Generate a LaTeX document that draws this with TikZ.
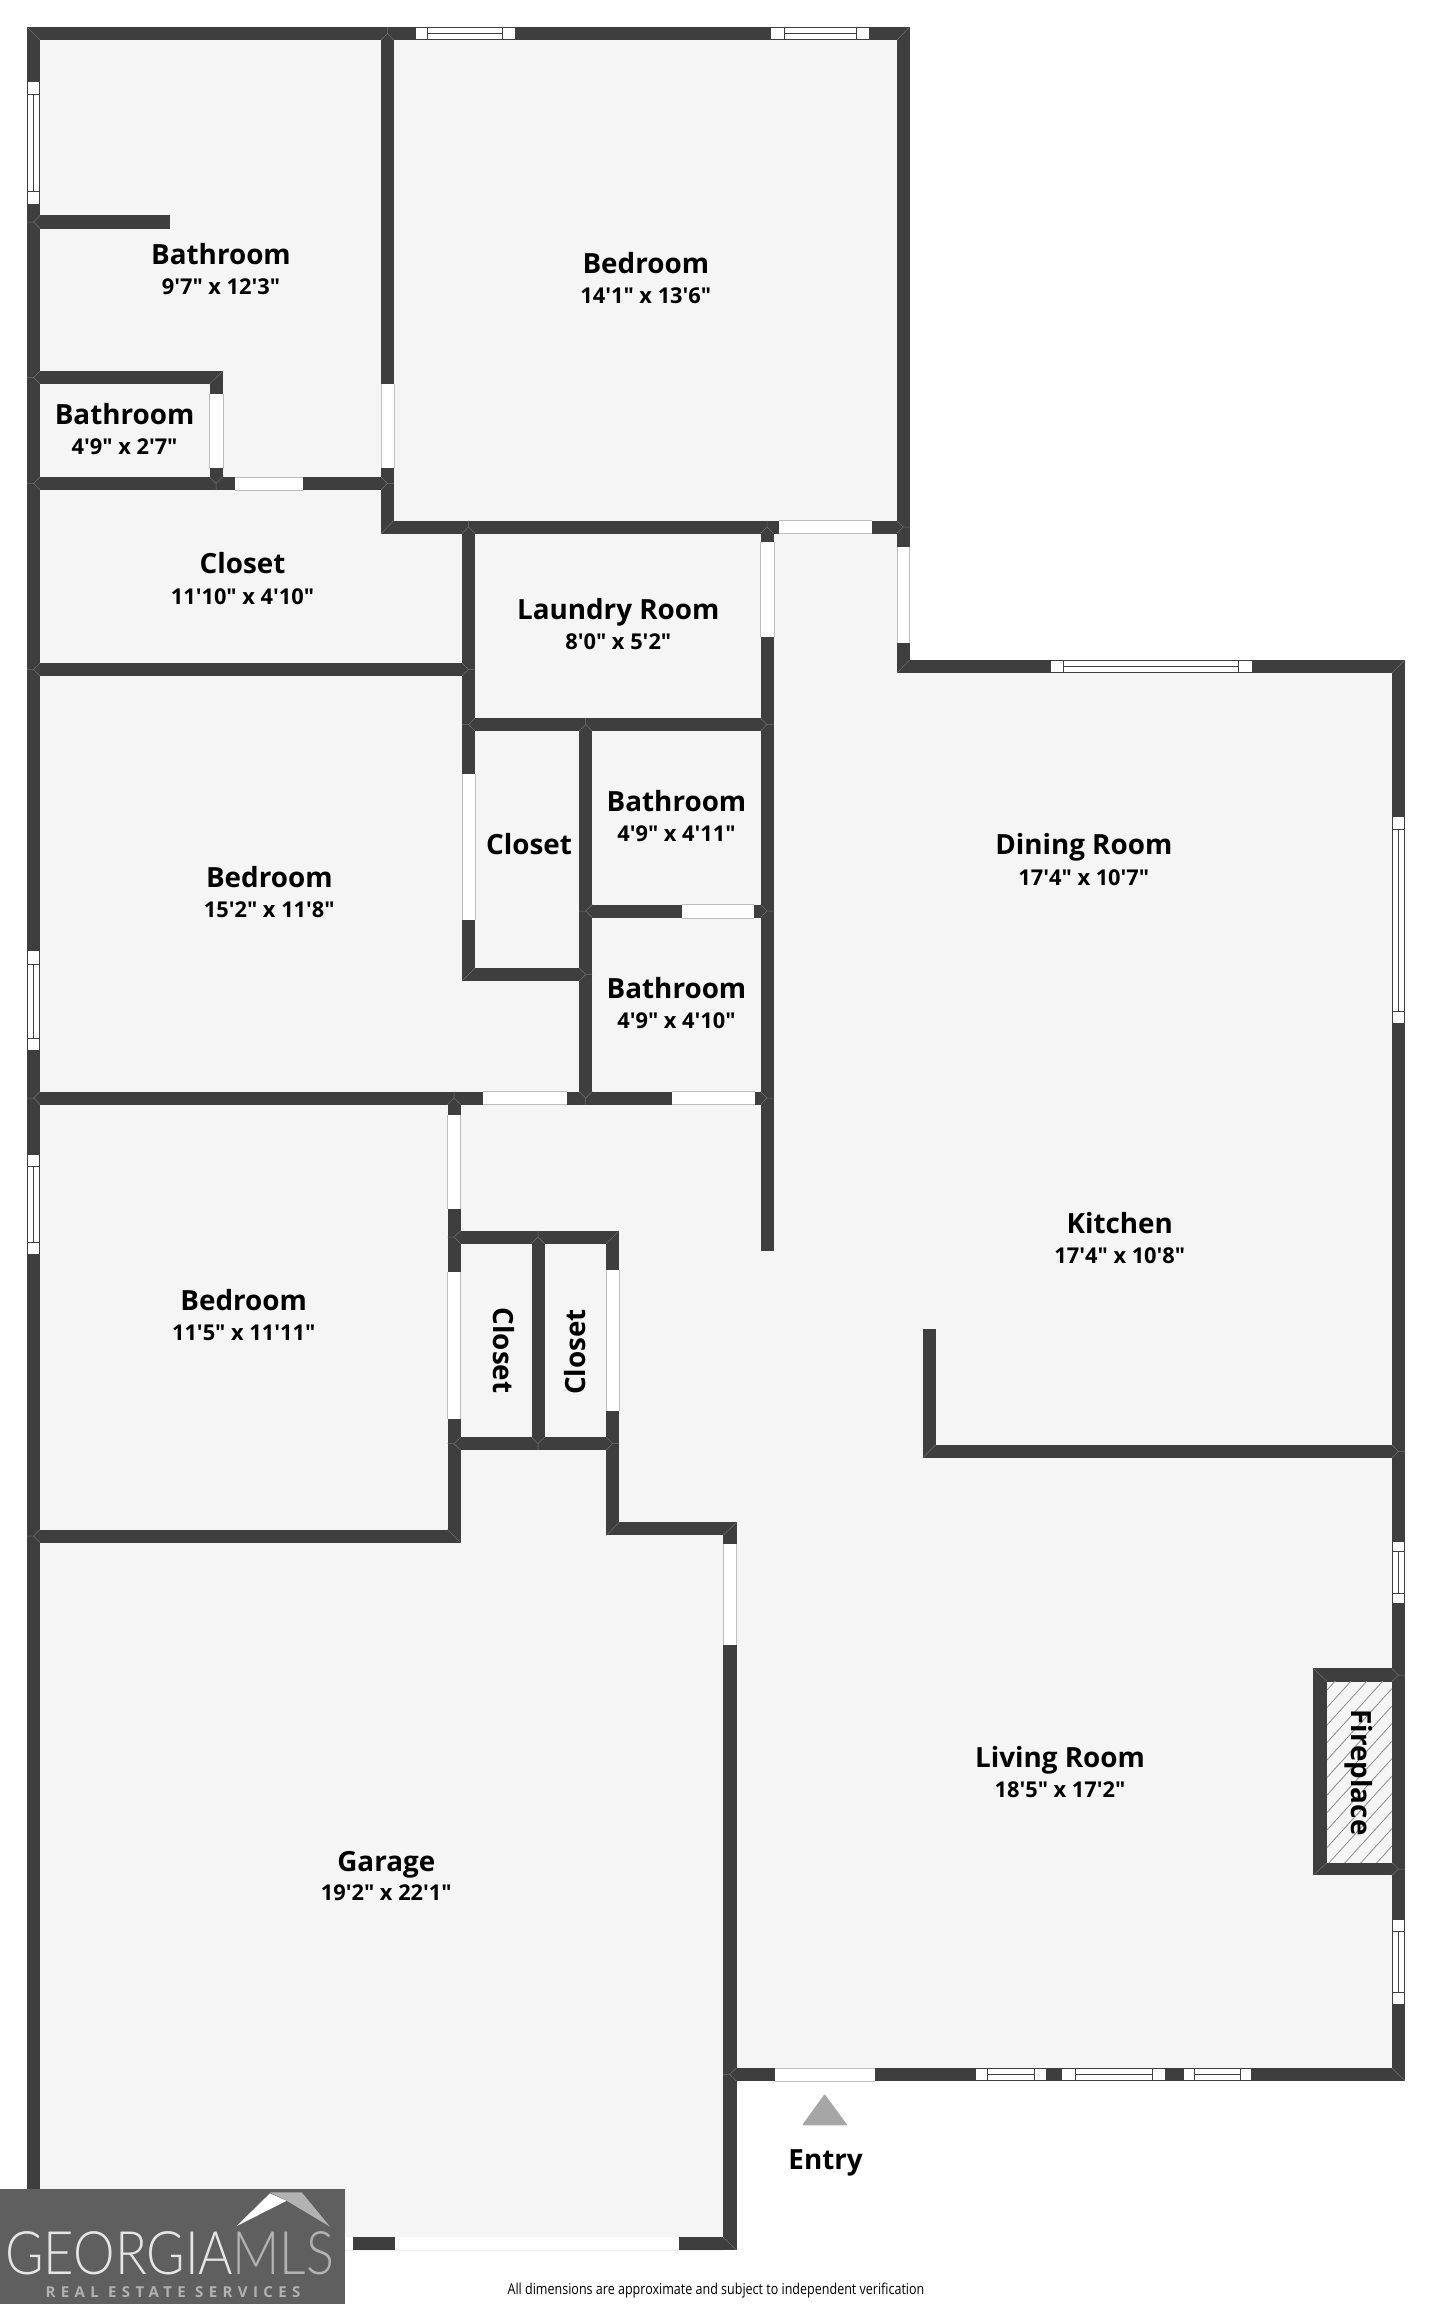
\documentclass[tikz,border=0pt]{standalone}
\usepackage{fontspec}
\newfontfamily\labelfont{Open Sans}
\newfontfamily\logofont{Lato Light}
\newfontfamily\logosub{Open Sans}[LetterSpace=36]
\definecolor{wallc}{HTML}{3E3E3E}
\definecolor{floorc}{HTML}{F5F5F5}
\definecolor{doorl}{HTML}{BDBDBD}
\definecolor{hatchc}{HTML}{8C8C8C}
\definecolor{logoc}{HTML}{5F5F5F}
\definecolor{mitrec}{HTML}{6E6E6E}
\tikzset{
  wall/.style={fill=wallc},
  winframe/.style={fill=white,draw=wallc,line width=.8pt},
  winline/.style={draw=wallc,line width=.8pt},
  mitreline/.style={draw=mitrec,line width=.5pt},
  roomname/.style={font=\labelfont\bfseries\fontsize{27.8}{30}\selectfont,inner sep=0pt,text=black,text height=20pt,text depth=0pt},
  roomdim/.style={font=\labelfont\bfseries\fontsize{21.8}{24}\selectfont,inner sep=0pt,text=black,text height=16pt,text depth=0pt},
}
\newcommand{\wl}[4]{\fill[wall] (#1,#2) rectangle (#3,#4);}
\newcommand{\doorH}[4]{\path[fill=white] (#1,#3) rectangle (#2,#4);\draw[draw=doorl,line width=.8pt] (#1,#3)--(#2,#3) (#1,#4)--(#2,#4);}
\newcommand{\doorV}[4]{\path[fill=white] (#3,#1) rectangle (#4,#2);\draw[draw=doorl,line width=.8pt] (#3,#1)--(#3,#2) (#4,#1)--(#4,#2);}
\newcommand{\winH}[6]{\path[winframe] (#1,#5) rectangle (#2,#6);\draw[winline] (#3,#5)--(#3,#6) (#4,#5)--(#4,#6) (#3,{(#5+#6)/2})--(#4,{(#5+#6)/2});}
\newcommand{\winV}[6]{\path[winframe] (#5,#1) rectangle (#6,#2);\draw[winline] (#5,#3)--(#6,#3) (#5,#4)--(#6,#4) ({(#5+#6)/2},#3)--({(#5+#6)/2},#4);}
% T-joint mitre at (x,y), branch direction given by an angle
\newcommand{\tee}[3]{\draw[mitreline,shift={(#1,#2)},rotate=#3] (6.5,-6.5)--(0,0)--(6.5,6.5) (-6.5,0)--(0,0);}
\newcommand{\crn}[4]{\draw[mitreline] (#1,#2)--(#3,#4);}
\begin{document}
\begin{tikzpicture}[x=1pt,y=-1pt]
\useasboundingbox (0,0) rectangle (1432,2304);
\fill[white] (0,0) rectangle (1432,2304);
% floor
\fill[floorc] (27,27)--(909.6,27)--(909.6,660)--(1405,660)--(1405,2081)--(736.5,2081)--(736.5,2237.3)--(27,2237.3)--cycle;
% outer walls
\wl{27}{27}{909.6}{40}
\wl{27}{27}{40}{2250}
\wl{897}{27}{909.6}{673}
\wl{897}{660}{1405}{673}
\wl{1392}{660}{1405}{2081}
\wl{723}{2068}{1405}{2081}
\wl{723}{1522.4}{736.5}{2250}
% bottom of garage
\draw[draw=black!6,line width=.8pt] (40,2250)--(723,2250);
\wl{352.7}{2237.3}{394.8}{2250}
\wl{679}{2237.3}{736.5}{2250}
% upper left
\wl{381}{27}{394}{534}
\wl{381}{520.5}{909.6}{533.7}
\wl{27}{215}{170}{229}
\wl{27}{371}{223}{384}
\wl{209.5}{371}{223}{490}
\wl{27}{477}{394}{490}
\wl{27}{663}{475}{676}
\wl{462}{520.5}{475}{981}
\wl{462}{718}{774}{731}
\wl{462}{968}{592}{981}
\wl{579}{718}{592.4}{1104.5}
\wl{579}{904.5}{774}{918}
\wl{27}{1091.7}{774}{1104.5}
\wl{760.6}{520.5}{774}{1250.7}
% bedroom / closets
\wl{447.5}{1091.7}{460.7}{1542.7}
\wl{27}{1529.6}{460.7}{1542.7}
\wl{447.5}{1230.8}{619}{1243.8}
\wl{447.5}{1437.4}{619}{1450}
\wl{531.7}{1230.8}{544.6}{1450}
\wl{606.3}{1230.8}{619}{1535.4}
\wl{606.3}{1522.4}{736.5}{1535.4}
% kitchen
\wl{922.6}{1328.8}{935.6}{1458}
\wl{922.6}{1444.8}{1405}{1458}
% fireplace
\wl{1313.4}{1668.4}{1405}{1681.5}
\wl{1313.4}{1862.6}{1405}{1875}
\wl{1313.4}{1668.4}{1327}{1875}
\begin{scope}
\clip (1327,1681.5) rectangle (1392,1862.6);
\foreach \k in {0,...,16}{\draw[hatchc,line width=.8pt] (1327,{1690+\k*17.5}) -- (1392,{1618.5+\k*17.5});}
\end{scope}
% mitres
\tee{33.5}{222}{0}\tee{33.5}{377.5}{0}\tee{33.5}{483.5}{0}\tee{33.5}{669.5}{0}\tee{33.5}{1098}{0}\tee{33.5}{1536}{0}
\tee{387.5}{33.5}{-90}\tee{387.5}{483.5}{180}\tee{216}{483.5}{90}
\tee{468.5}{527}{-90}\tee{903.3}{527}{180}\tee{767}{527}{-90}
\tee{468.5}{669.5}{180}\tee{468.5}{724.5}{0}
\tee{585.7}{724.5}{-90}\tee{767}{724.5}{180}\tee{767}{911}{180}\tee{767}{1098}{180}
\tee{585.7}{911}{0}\tee{585.7}{974.5}{180}\tee{585.7}{1098}{90}\tee{454}{1098}{-90}
\tee{454}{1237}{0}\tee{454}{1443.7}{0}\tee{538}{1237}{-90}\tee{538}{1443.7}{90}\tee{612.6}{1443.7}{180}
\tee{729.8}{2074.5}{0}\tee{1398.5}{1451.4}{180}\tee{1398.5}{1675}{180}\tee{1398.5}{1869}{180}
\crn{27}{27}{40}{40}\crn{909.6}{27}{897}{40}\crn{897}{673}{909.6}{660}\crn{1405}{660}{1392}{673}
\crn{1405}{2081}{1392}{2068}\crn{736.5}{2250}{723}{2237.3}\crn{223}{371}{209.5}{384}\crn{381}{533.7}{394}{520.5}
\crn{462}{981}{475}{968}\crn{460.7}{1542.7}{447.5}{1529.6}\crn{619}{1230.8}{606.3}{1243.8}\crn{606.3}{1535.4}{619}{1522.4}
\crn{736.5}{1522.4}{723}{1535.4}\crn{922.6}{1458}{935.6}{1444.8}\crn{1313.4}{1668.4}{1327}{1681.5}\crn{1313.4}{1875}{1327}{1862.6}
% doors
\doorV{384}{468}{381}{394}
\doorV{394}{468}{209.5}{223}
\doorH{235}{303}{477}{490}
\doorH{779}{872}{520.5}{533.7}
\doorV{541.6}{636.7}{760.6}{774}
\doorV{547}{643.4}{897}{909.6}
\doorV{774}{920}{462}{475}
\doorH{682}{754}{904.5}{918}
\doorH{482.5}{567}{1091.7}{1104.5}
\doorH{672}{755}{1091.7}{1104.5}
\doorV{1115}{1208.7}{447.5}{460.7}
\doorV{1272.4}{1419}{447.5}{460.7}
\doorV{1270}{1411}{606.3}{619}
\doorV{1543.5}{1644.6}{723}{736.5}
\doorH{775}{875}{2068}{2081}
% windows
\winV{81}{204}{94}{191}{27.5}{39.5}
\winV{950.4}{1050}{964}{1038}{27.5}{39.5}
\winV{1154}{1254.7}{1166.5}{1242}{27.5}{39.5}
\winH{415}{515}{427}{502}{27.5}{39.5}
\winH{770.7}{869.3}{784.3}{856.7}{27.5}{39.5}
\winH{1050.7}{1252}{1063.4}{1238.7}{660.5}{672.5}
\winV{816}{1023.4}{829.5}{1011}{1392.5}{1404.5}
\winV{1541}{1603.6}{1551.4}{1593.3}{1392.5}{1404.5}
\winV{1919}{2004}{1931.4}{1992}{1392.5}{1404.5}
\winH{975.4}{1046}{987}{1034}{2068.5}{2080.5}
\winH{1061.8}{1165.4}{1075}{1152}{2068.5}{2080.5}
\winH{1183.6}{1251}{1194}{1240}{2068.5}{2080.5}
% labels
\node[roomname] (n1) at (221,254) {Bathroom};
\node[roomdim] (d1) at (221,286) {9'7" x 12'3"};
\node[roomname] (n2) at (645.8,263.5) {Bedroom};
\node[roomdim] (d2) at (645.8,295.5) {14'1" x 13'6"};
\node[roomname] (n3) at (124.6,414) {Bathroom};
\node[roomdim] (d3) at (124.6,446.5) {4'9" x 2'7"};
\node[roomname] (n4) at (242.5,563.4) {Closet};
\node[roomdim] (d4) at (242.5,596) {11'10" x 4'10"};
\node[roomname] (n5) at (618.3,609.5) {Laundry Room};
\node[roomdim] (d5) at (618.3,641) {8'0" x 5'2"};
\node[roomname] (n6) at (529,844) {Closet};
\node[roomname] (n7) at (676.5,801.4) {Bathroom};
\node[roomdim] (d7) at (676.5,833) {4'9" x 4'11"};
\node[roomname] (n8) at (676.5,988.5) {Bathroom};
\node[roomdim] (d8) at (676.5,1020.5) {4'9" x 4'10"};
\node[roomname] (n9) at (1083.8,844.8) {Dining Room};
\node[roomdim] (d9) at (1083.8,877) {17'4" x 10'7"};
\node[roomname] (n10) at (1119.8,1223) {Kitchen};
\node[roomdim] (d10) at (1119.8,1255) {17'4" x 10'8"};
\node[roomname] (n11) at (1060,1757) {Living Room};
\node[roomdim] (d11) at (1060,1789) {18'5" x 17'2"};
\node[roomname] (n12) at (269.3,877.5) {Bedroom};
\node[roomdim] (d12) at (269.3,909.5) {15'2" x 11'8"};
\node[roomname] (n13) at (243.7,1300) {Bedroom};
\node[roomdim] (d13) at (243.7,1332) {11'5" x 11'11"};
\node[roomname] (n14) at (386.3,1861.5) {Garage};
\node[roomdim] (d14) at (386.3,1892.5) {19'2" x 22'1"};
\node[roomname,rotate=-90] (n15) at (503,1350.6) {Closet};
\node[roomname,rotate=90] (n16) at (575,1352) {Closet};
\node[roomname,rotate=-90] (n17) at (1361.5,1772.5) {Fireplace};
\node[roomname] (n18) at (825.6,2159.5) {Entry};
\node[inner sep=0pt,font=\labelfont\fontsize{15}{17}\selectfont,text=black] (foot) at (716,2290.7) {\scalebox{.835}[1]{All dimensions are approximate and subject to independent verification}};
% entry arrow
\fill[fill=black!35,rounded corners=1pt] (824.6,2094)--(847.6,2125.3)--(802,2125.3)--cycle;
% logo
\fill[logoc] (0,2189) rectangle (345,2304);
\fill[white] (236.7,2226)--(270,2193.3)--(286.7,2200.7)--cycle;
\fill[black!30] (270,2192.3)--(301.7,2192.3)--(330,2226.7)--(286.7,2200.7)--cycle;
\node[inner sep=0pt,anchor=west,text=white!90!black,font=\logofont\fontsize{60}{60}\selectfont] (lg1) at (5,2253) {\scalebox{.875}[1]{GEORGIA}};
\node[inner sep=0pt,anchor=west,text=black!30,font=\logofont\fontsize{60}{60}\selectfont] (lg2) at (232,2253) {\scalebox{.87}[1]{MLS}};
\node[inner sep=0pt,text=black!30,font=\logosub\bfseries\fontsize{15}{17}\selectfont] (lg3) at (173,2292) {REAL ESTATE SERVICES};
\end{tikzpicture}
\end{document}
